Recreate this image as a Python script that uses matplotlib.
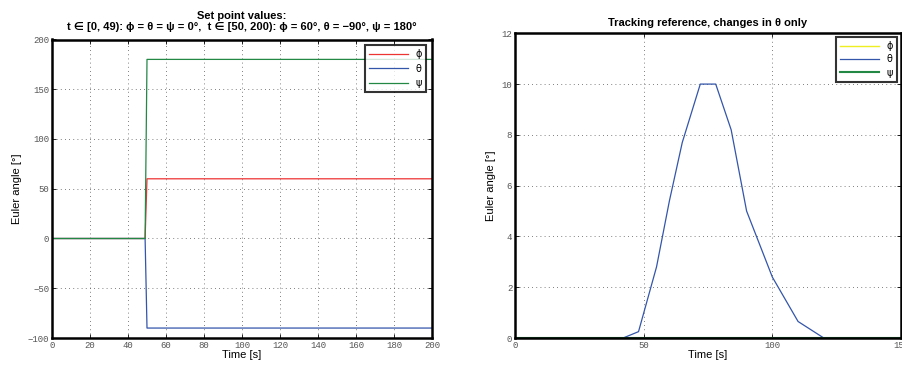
import matplotlib.pyplot as plt

# Datos: consignas (grafico izquierdo)
t_set = [0, 49, 50, 200]
phi_set = [0, 0, 60, 60]
theta_set = [0, 0, -90, -90]
psi_set = [0, 0, 180, 180]

# Datos: referencia de seguimiento (grafico derecho)
t_ref = [0, 42, 48, 55, 60, 65, 72, 78, 84, 90, 100, 110, 120, 150]
theta_ref = [0, 0, 0.25, 2.8, 5.4, 7.7, 10, 10, 8.2, 5.0, 2.4, 0.65, 0, 0]
t_zero = [0, 150]
zero = [0, 0]

labels = ["\u03d5", "\u03b8", "\u03c8"]
familia = ["Liberation Sans", "DejaVu Sans"]

fig = plt.figure(figsize=(9.03, 3.68), dpi=100)
ax1 = fig.add_axes([52 / 903, 1 - 338 / 368, 380 / 903, (338 - 39.5) / 368])
ax2 = fig.add_axes([515 / 903, 1 - 338 / 368, 386 / 903, (338 - 33.3) / 368])

lab_font = dict(family=familia, size=8)


def estilo(ax):
    for s in ax.spines.values():
        s.set_linewidth(1.8)
    ax.tick_params(direction="in", length=3, width=0.6, top=True, right=True,
                   pad=2, labelsize=6.5, labelcolor="#555555")
    for lb in ax.get_xticklabels() + ax.get_yticklabels():
        lb.set_family(["Liberation Mono", "DejaVu Sans Mono"])
    ax.grid(True, linestyle=(0, (1, 4)), color="#555555", linewidth=0.6)


# Grafico izquierdo
ax1.plot(t_set, phi_set, color="#ee3333", lw=0.9, label=labels[0])
ax1.plot(t_set, theta_set, color="#3355aa", lw=0.9, label=labels[1])
ax1.plot(t_set, psi_set, color="#228844", lw=0.9, label=labels[2])
ax1.set_xlim(0, 200)
ax1.set_ylim(-100, 200)
ax1.set_xticks(range(0, 201, 20))
ax1.set_yticks(range(-100, 201, 50))
ax1.set_yticklabels(["\u2212100", "\u221250", "0", "50", "100", "150", "200"])
estilo(ax1)
ax1.set_xlabel("Time [s]", labelpad=0, **lab_font)
ax1.set_ylabel("Euler angle [\u00b0]", labelpad=4, **lab_font)
ax1.set_title("Set point values:\n"
              "t \u2208 [0, 49): \u03d5 = \u03b8 = \u03c8 = 0\u00b0,  "
              "t \u2208 [50, 200): \u03d5 = 60\u00b0, \u03b8 = \u221290\u00b0, \u03c8 = 180\u00b0",
              family=familia, size=8, fontweight="bold", pad=7,
              linespacing=1.1)
leg1 = ax1.legend(loc="upper right", fontsize=7, handlelength=4, frameon=True,
                  fancybox=False, edgecolor="black", borderaxespad=0.6,
                  labelspacing=0.45)
leg1.get_frame().set_linewidth(1.5)

# Grafico derecho
ax2.plot(t_zero, zero, color="#eeee22", lw=1.0, label=labels[0])
ax2.plot(t_ref, theta_ref, color="#3355aa", lw=0.9, label=labels[1])
ax2.plot(t_zero, zero, color="#228844", lw=1.5, label=labels[2])
ax2.set_xlim(0, 150)
ax2.set_ylim(0, 12)
ax2.set_xticks([0, 50, 100, 150])
ax2.set_yticks(range(0, 13, 2))
estilo(ax2)
ax2.set_xlabel("Time [s]", labelpad=0, **lab_font)
ax2.set_ylabel("Euler angle [\u00b0]", labelpad=4, **lab_font)
ax2.set_title("Tracking reference, changes in \u03b8 only",
              family=familia, size=8, fontweight="bold", pad=5)
leg2 = ax2.legend(loc="upper right", fontsize=7, handlelength=4, frameon=True,
                  fancybox=False, edgecolor="black", borderaxespad=0.4,
                  labelspacing=0.35)
leg2.get_frame().set_linewidth(1.5)

fig.savefig("out.png", dpi=100)
